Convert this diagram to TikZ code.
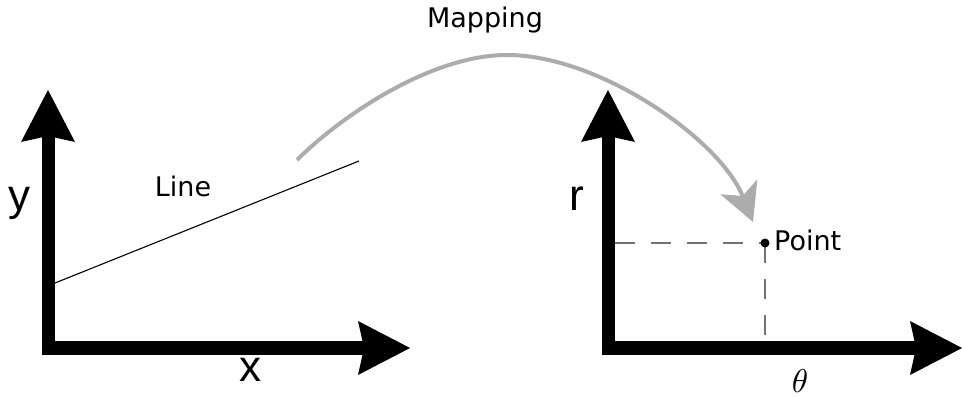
\documentclass[tikz,border=0pt]{standalone}
\usepackage{fontspec}
\setmainfont{DejaVu Sans}
\newfontfamily\axfont{Liberation Sans}
\usetikzlibrary{arrows.meta}
\begin{document}
\begin{tikzpicture}[x=1pt,y=-1pt,
  axis/.style={line width=13pt,-{Stealth[length=52pt,width=54pt,inset=6pt,line width=0pt]}},
  maparrow/.style={line width=4pt,color=gray!65,-{Stealth[length=38pt,width=40pt,inset=10pt,line width=0pt]}},
  guide/.style={line width=2pt,color=gray!90!black,dash pattern=on 20pt off 16pt},
  lbl/.style={font=\fontsize{27}{30}\selectfont,inner sep=0pt},
  axlbl/.style={font=\axfont\fontsize{44}{48}\selectfont,inner sep=0pt}]
\useasboundingbox (0,0) rectangle (962,398);
% left axes
\coordinate (lo) at (48,348);
\coordinate (ly) at (48,90);
\coordinate (lx) at (410,348);
\draw[axis] (48,354) -- (ly);
\draw[axis] (42,348) -- (lx);
\coordinate (la) at (55,283);
\coordinate (lb) at (359,161);
\draw[line width=1.1pt] (la) -- (lb);
\node[lbl] (linelbl) at (183,186) {Line};
\node[axlbl] (ylbl) at (20,203) {y};
\node[axlbl] (xlbl) at (250,370) {x};
% right axes
\coordinate (ro) at (608,348);
\coordinate (ry) at (608,90);
\coordinate (rx) at (962,348);
\draw[axis] (608,354) -- (ry);
\draw[axis] (602,348) -- (rx);
\node[axlbl] (rlbl) at (577,199) {r};
\node[inner sep=0pt,scale=3.3] (thlbl) at (800,381) {$\theta$};
% point
\coordinate (pt) at (765,243);
\coordinate (ph) at (615,243);
\coordinate (pv) at (765,342);
\draw[guide] (ph) -- (pt);
\draw[guide] (pt) -- (pv);
\fill (pt) circle (4.5pt);
\node[lbl,anchor=west] (ptlbl) at (774,240) {Point};
% mapping arrow
\coordinate (ms) at (297,160);
\coordinate (mp) at (507,55);
\coordinate (me) at (753,222);
\draw[maparrow] (ms) .. controls (340,117) and (430,55) .. (mp)
   .. controls (600,55) and (720,140) .. (me);
\node[lbl] (maplbl) at (485,20) {Mapping};
\end{tikzpicture}
\end{document}
